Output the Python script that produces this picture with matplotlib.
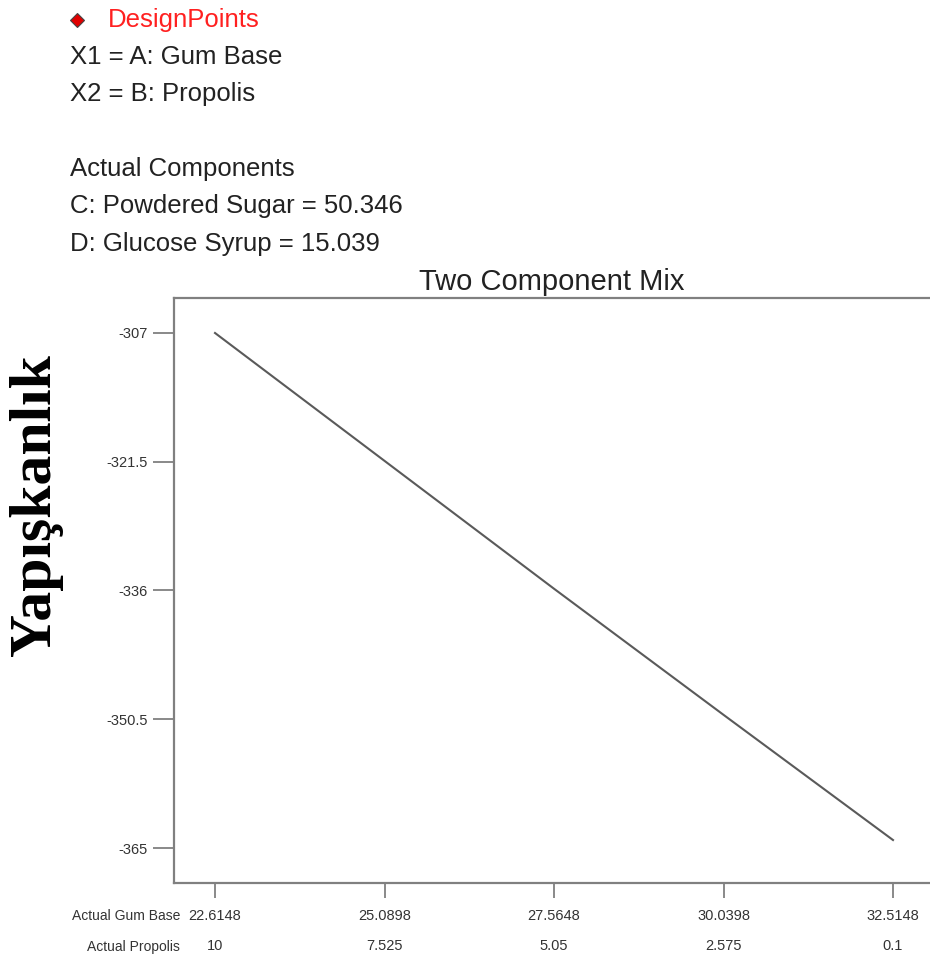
import matplotlib.pyplot as plt
from matplotlib.lines import Line2D

# data
gum_base = [22.6148, 25.0898, 27.5648, 30.0398, 32.5148]
propolis = ["10", "7.525", "5.05", "2.575", "0.1"]
stickiness = [-307.0, -321.4, -335.8, -350.0, -364.1]
y_ticks = [-307, -321.5, -336, -350.5, -365]
y_tick_labels = ["-307", "-321.5", "-336", "-350.5", "-365"]

header_lines = [
    "X1 = A: Gum Base",
    "X2 = B: Propolis",
    "",
    "Actual Components",
    "C: Powdered Sugar = 50.346",
    "D: Glucose Syrup = 15.039",
]

W, H = 930, 964
sans = ["Liberation Sans", "DejaVu Sans"]
gray = "#808080"
label_gray = "#333333"

fig = plt.figure(figsize=(W / 100, H / 100), dpi=100)
fig.patch.set_facecolor("white")

# axes: left spine at x=174, top at y=298, bottom at y=883, right edge cut off
ax = fig.add_axes([174 / W, 1 - 883 / H, (W - 174) / W, (883 - 298) / H])
ax.plot(gum_base, stickiness, color="#5a5a5a", lw=1.5)

ax.set_xlim(22.016, 33.055)
ax.set_ylim(-368.94, -303.06)

for side in ["left", "top", "bottom"]:
    ax.spines[side].set_color(gray)
    ax.spines[side].set_linewidth(1.6)
ax.spines["right"].set_visible(False)

ax.set_yticks(y_ticks, labels=y_tick_labels)
ax.tick_params(axis="y", length=15, width=1.3, color=gray, pad=4,
               labelsize=10.5, labelcolor=label_gray)
ax.set_xticks(gum_base, labels=[f"{v:.4f}" for v in gum_base])
ax.tick_params(axis="x", length=11, width=1.3, color=gray, pad=8,
               labelsize=10.5, labelcolor=label_gray)
for lab in ax.get_xticklabels() + ax.get_yticklabels():
    lab.set_family(sans)

# second row of x labels: propolis amounts
sec = ax.secondary_xaxis("bottom")
sec.set_xticks(gum_base, labels=propolis)
sec.tick_params(length=0, pad=40, labelsize=10.5, labelcolor=label_gray)
sec.spines["bottom"].set_visible(False)
for lab in sec.get_xticklabels():
    lab.set_family(sans)

fig.text(180 / W, 1 - 916 / H, "Actual Gum Base", ha="right", va="center",
         fontsize=10, color=label_gray, family=sans)
fig.text(180 / W, 1 - 947 / H, "Actual Propolis", ha="right", va="center",
         fontsize=10, color=label_gray, family=sans)

ax.set_title("Two Component Mix", fontsize=21, family=sans, color="#222222", pad=6)

fig.text(36 / W, 1 - 505 / H, "Yapışkanlık", rotation=90, ha="center", va="center",
         fontsize=43, fontweight="bold", family=["Liberation Serif", "DejaVu Serif"],
         color="black")

# header block
fig.add_artist(Line2D([77 / W], [1 - 20 / H], marker="D", markersize=7,
                      markerfacecolor="#e00000", markeredgecolor="#444444",
                      markeredgewidth=0.8, transform=fig.transFigure))
fig.text(108 / W, 1 - 20 / H, "DesignPoints", ha="left", va="center",
         fontsize=18.5, color="#ff2020", family=sans)
y0 = 57
for i, line in enumerate(header_lines):
    if line:
        fig.text(70 / W, 1 - (y0 + i * 37.3) / H, line, ha="left", va="center",
                 fontsize=18.5, color="#222222", family=sans)

fig.savefig("out.png", dpi=100, facecolor="white")
